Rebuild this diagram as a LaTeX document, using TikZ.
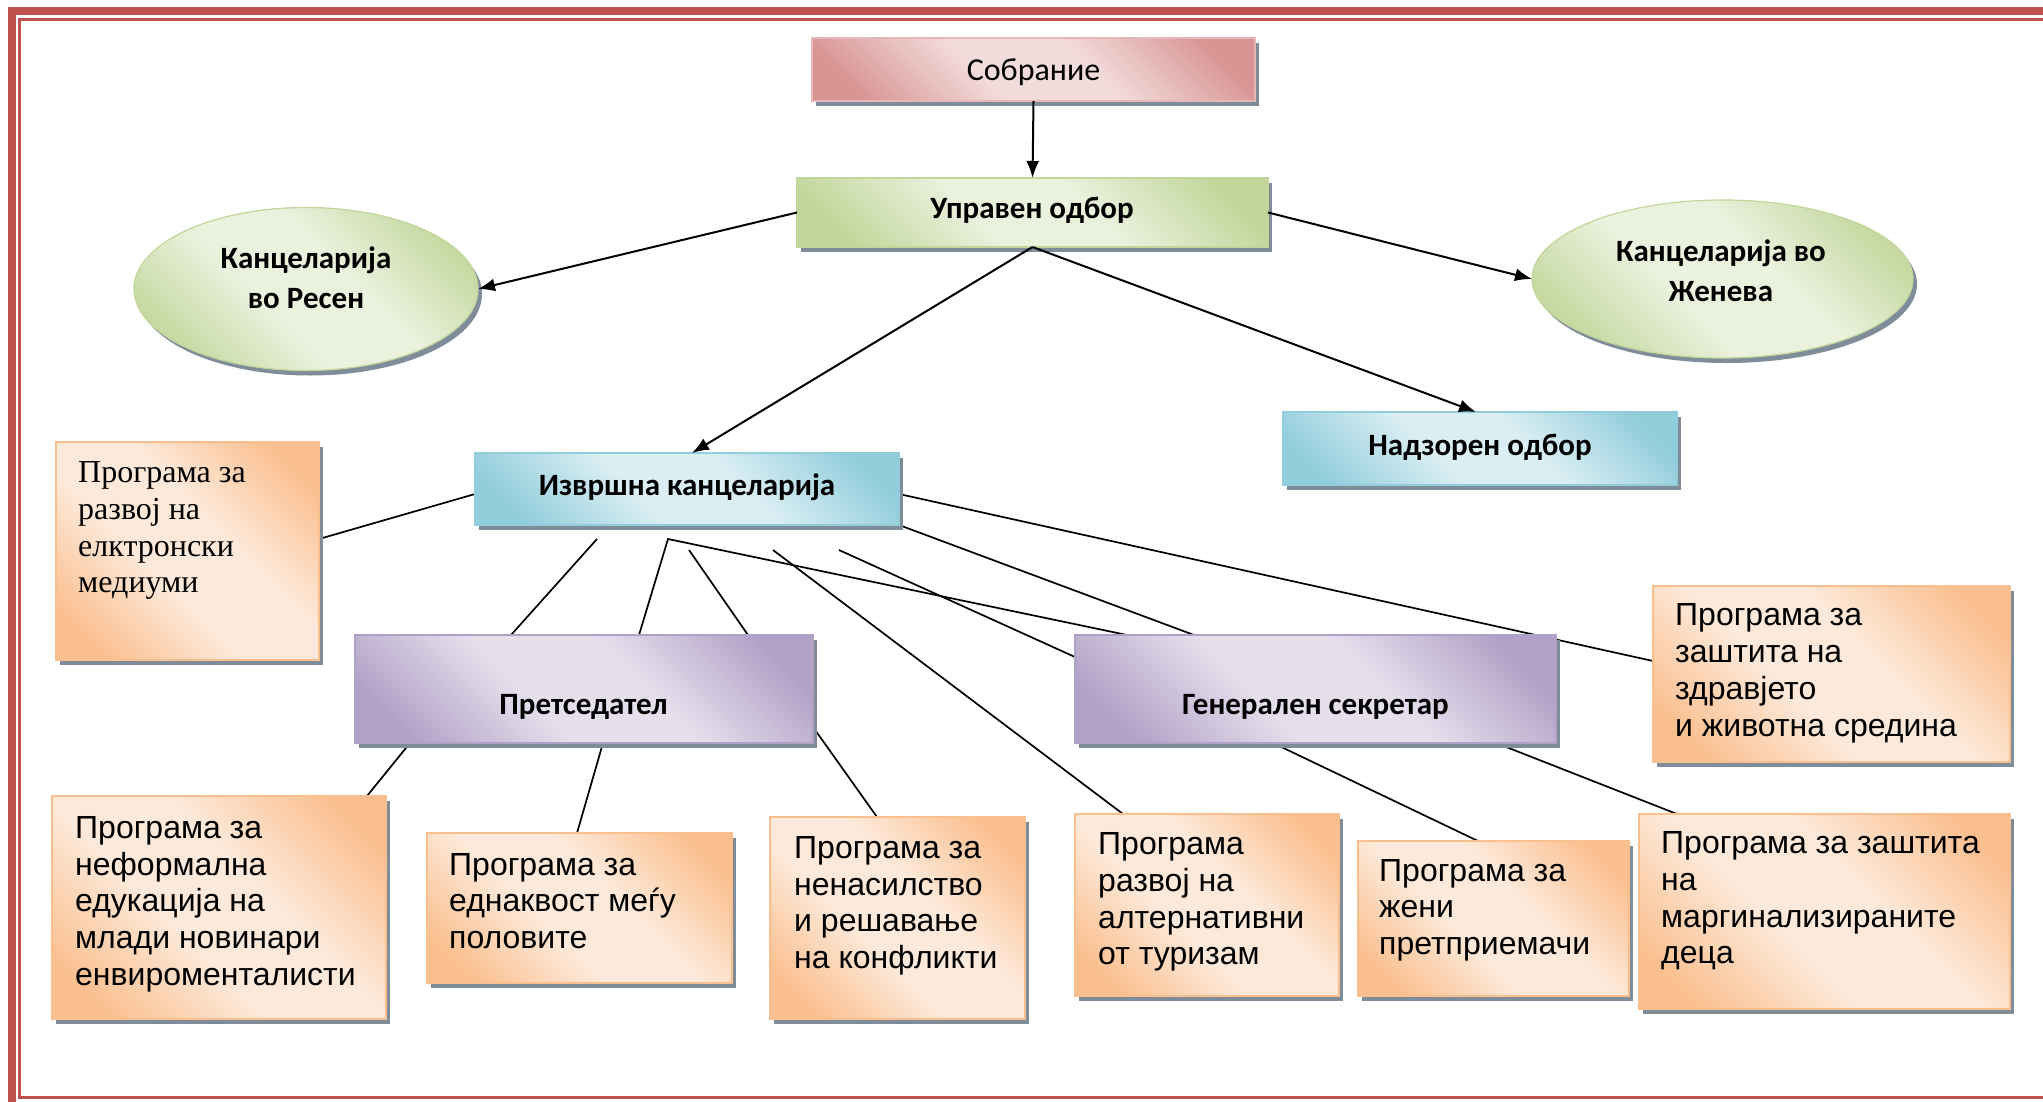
\documentclass[tikz,border=0pt]{standalone}
\usepackage{fontspec}
\usetikzlibrary{arrows.meta,shadows,shapes.geometric,calc}
\newfontfamily\fcal{Carlito}
\newfontfamily\fari{Liberation Sans}
\newfontfamily\ftnr{Liberation Serif}
\definecolor{framecol}{HTML}{C0504D}
\definecolor{rdk}{HTML}{D99594}\definecolor{rlt}{HTML}{F2DCDB}\definecolor{rbd}{HTML}{E5B8B7}
\definecolor{gdk}{HTML}{C2D69B}\definecolor{glt}{HTML}{EAF1DD}
\definecolor{bdk}{HTML}{92CDDC}\definecolor{blt}{HTML}{DAEEF3}
\definecolor{pdk}{HTML}{B2A1C7}\definecolor{plt}{HTML}{E5DFEC}
\definecolor{odk}{HTML}{FABF8F}\definecolor{olt}{HTML}{FDE9D9}
\definecolor{shcol}{HTML}{7F8C99}
\pgfdeclareverticalshading{shR}{100bp}{color(0bp)=(rdk); color(22bp)=(rdk); color(42bp)=(rlt); color(58bp)=(rlt); color(78bp)=(rdk); color(100bp)=(rdk)}
\pgfdeclareverticalshading{shG}{100bp}{color(0bp)=(gdk); color(22bp)=(gdk); color(42bp)=(glt); color(58bp)=(glt); color(78bp)=(gdk); color(100bp)=(gdk)}
\pgfdeclareverticalshading{shB}{100bp}{color(0bp)=(bdk); color(22bp)=(bdk); color(42bp)=(blt); color(58bp)=(blt); color(78bp)=(bdk); color(100bp)=(bdk)}
\pgfdeclareverticalshading{shP}{100bp}{color(0bp)=(pdk); color(22bp)=(pdk); color(42bp)=(plt); color(58bp)=(plt); color(78bp)=(pdk); color(100bp)=(pdk)}
\pgfdeclareverticalshading{shO}{100bp}{color(0bp)=(odk); color(22bp)=(odk); color(42bp)=(olt); color(58bp)=(olt); color(78bp)=(odk); color(100bp)=(odk)}
\pgfdeclarelayer{bg}\pgfsetlayers{bg,main}
\tikzset{
  shbase/.style={inner sep=0pt, outer sep=0pt, line width=1.2pt, shading angle=-45,
    drop shadow={shadow xshift=4pt, shadow yshift=-5pt, fill=shcol, opacity=1}},
  redbox/.style={shbase, rectangle, shading=shR, draw=rbd},
  greenbox/.style={shbase, rectangle, shading=shG, draw=gdk},
  greenell/.style={shbase, ellipse, shading=shG, draw=gdk},
  bluebox/.style={shbase, rectangle, shading=shB, draw=bdk},
  purplebox/.style={shbase, rectangle, shading=shP, draw=pdk},
  orangebox/.style={shbase, rectangle, shading=shO, draw=odk},
  tbold/.style={font=\fcal\bfseries\fontsize{31}{40}\selectfont, inner sep=0pt, align=center},
  treg/.style={font=\fcal\fontsize{32}{38}\selectfont, inner sep=0pt},
  tari/.style={font=\fari\fontsize{32}{36.7}\selectfont, inner sep=0pt, align=left, anchor=north west},
  ttnr/.style={font=\ftnr\fontsize{32}{36.7}\selectfont, inner sep=0pt, align=left, anchor=north west},
  ln/.style={line width=1.7pt, black},
  arr/.style={line width=2pt, black, -{Latex[length=17pt,width=13pt]}}
}
\begin{document}
\begin{tikzpicture}[x=1pt,y=-1pt]
\useasboundingbox (0,0) rectangle (2043,1101);
\clip (0,0) rectangle (2043,1101);
\begin{pgfonlayer}{bg}
\fill[white] (0,0) rectangle (2043,1101);
\end{pgfonlayer}
% frame
\draw[framecol, line width=8pt] (12,1120) -- (12,11) -- (2060,11);
\draw[framecol, line width=3pt] (2060,19.5) -- (19.5,19.5) -- (19.5,1097) -- (2060,1097);

% shapes
\node[redbox, minimum width=443pt, minimum height=63pt] (sob) at (1033.5,69.5) {};
\node[greenbox, minimum width=471pt, minimum height=69pt] (upr) at (1032.5,212.5) {};
\node[greenell, minimum width=344pt, minimum height=163pt] (resen) at (306,289) {};
\node[greenell, minimum width=381pt, minimum height=158pt] (zheneva) at (1722.5,279) {};
\node[bluebox, minimum width=394pt, minimum height=73pt] (nadz) at (1480,448.5) {};
\node[bluebox, minimum width=424pt, minimum height=72pt] (izv) at (687,489) {};
\node[orangebox, minimum width=263pt, minimum height=218pt] (elk) at (187.5,551) {};
\node[purplebox, minimum width=458pt, minimum height=108pt] (pret) at (584,689) {};
\node[purplebox, minimum width=481pt, minimum height=108pt] (gen) at (1315.5,689) {};
\node[orangebox, minimum width=357pt, minimum height=176pt] (zdr) at (1831.5,674) {};
\node[orangebox, minimum width=264pt, minimum height=182pt] (alt) at (1207,905) {};
\node[orangebox, minimum width=271pt, minimum height=155pt] (zeni) at (1493.5,918.5) {};
\node[orangebox, minimum width=371pt, minimum height=195pt] (marg) at (1824.5,911.5) {};
\node[orangebox, minimum width=334pt, minimum height=223pt] (nef) at (219,907.5) {};
\node[orangebox, minimum width=305pt, minimum height=150pt] (edn) at (579.5,908) {};
\node[orangebox, minimum width=255pt, minimum height=202pt] (nen) at (897.5,918) {};

% texts
\node[treg] (sob-t) at (1033.5,72) {Собрание};
\node[tbold] (upr-t) at (1032,210.5) {Управен одбор};
\node[tbold] (resen-t) at (306,278) {Канцеларија\\во Ресен};
\node[tbold] (zheneva-t) at (1721,271) {Канцеларија во\\Женева};
\node[tbold] (nadz-t) at (1480,447) {Надзорен одбор};
\node[tbold] (izv-t) at (687,487) {Извршна канцеларија};
\node[tbold] (pret-t) at (583.5,706.5) {Претседател};
\node[tbold] (gen-t) at (1315.5,706.5) {Генерален секретар};
\node[ttnr] (elk-t) at (78,457) {\strut Програма за\\развој на\\елктронски\\медиуми};
\node[tari] (nef-t) at (75,812.6) {\strut Програма за\\неформална\\едукација на\\млади новинари\\енвироменталисти};
\node[tari] (edn-t) at (449,849.3) {\strut Програма за\\еднаквост меѓу\\половите};
\node[tari] (nen-t) at (794,832.6) {\strut Програма за\\ненасилство\\и решавање\\на конфликти};
\node[tari] (alt-t) at (1098,828.8) {\strut Програма\\развој на\\алтернативни\\от туризам};
\node[tari] (zeni-t) at (1379,855.3) {\strut Програма за\\жени\\претприемачи};
\node[tari] (marg-t) at (1661,827.7) {\strut Програма за заштита\\на\\маргинализираните\\деца};
\node[tari] (zdr-t) at (1675,600) {\strut Програма за\\заштита на\\здравјето\\и животна средина};

% free line ends below the executive office
\coordinate (c1) at (597,539);
\coordinate (c2) at (668,539);
\coordinate (c3) at (689,550);
\coordinate (c4) at (773,550);
\coordinate (c5) at (839,550);

\begin{pgfonlayer}{bg}
\draw[ln] ([yshift=-5pt]izv.west) -- ([yshift=12pt]elk.east);
\draw[ln] (c1) -- ([xshift=156pt]pret.north west);
\draw[ln] ([xshift=284pt]pret.north west) -- (c2) -- ([xshift=52pt]gen.north west);
\draw[ln] (c3) -- ([xshift=393pt]pret.north west);
\draw[ln] (c4) -- ([xshift=48pt]alt.north west);
\draw[ln] (c5) -- ([yshift=-22pt]gen.north west);
\draw[ln] (izv.south east) -- ([xshift=119pt]gen.north west);
\draw[ln] ([yshift=-5pt]izv.east) -- ([yshift=-75pt]zdr.north west);
\draw[ln] ([yshift=-92pt]pret.north east) -- ([xshift=107pt]nen.north west);
\draw[ln] ([xshift=55pt]pret.south west) -- ([xshift=315pt]nef.north west);
\draw[ln] ([xshift=248pt]pret.south west) -- ([xshift=150pt]edn.north west);
\draw[ln] ([xshift=198pt]gen.south west) -- ([xshift=120pt]zeni.north west);
\draw[ln] ([xshift=421pt]gen.south west) -- ([xshift=38pt]marg.north west);
\end{pgfonlayer}

% arrows
\draw[arr] (sob.south) -- (upr.north);
\draw[arr] (upr.west) -- (resen.east);
\draw[arr] (upr.east) -- (zheneva.west);
\draw[arr] (upr.south) -- ([xshift=5pt]izv.north);
\draw[arr] (upr.south) -- ([xshift=-4pt]nadz.north);
\end{tikzpicture}
\end{document}
